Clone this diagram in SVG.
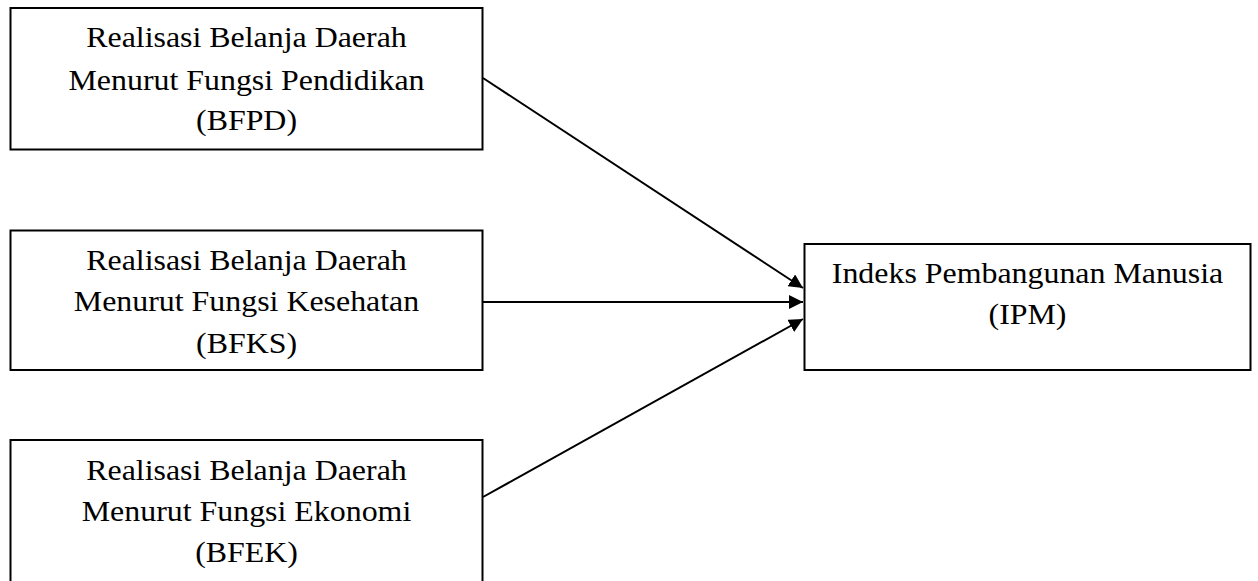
<svg xmlns="http://www.w3.org/2000/svg" width="1258" height="581" viewBox="0 0 1258 581">
<defs>
<style>
rect{fill:#fff;stroke:#000;stroke-width:2}
text{font-family:"Liberation Serif","Times New Roman",serif;font-size:29px;fill:#000;text-anchor:middle}
.c line{stroke:#000;stroke-width:2}
</style>
<marker id="ah" markerWidth="14" markerHeight="14" refX="14" refY="7" orient="auto" markerUnits="userSpaceOnUse" viewBox="0 0 14 14">
<path d="M0,0 L14,7 L0,14 Z" fill="#000"/>
</marker>
</defs>
<g id="bfpd">
<rect x="10.5" y="8" width="472" height="141.5"/>
<text transform="translate(246.5,47) scale(1.1,1)">Realisasi Belanja Daerah</text>
<text transform="translate(246.5,90) scale(1.1,1)">Menurut Fungsi Pendidikan</text>
<text transform="translate(246.5,130) scale(1.1,1)">(BFPD)</text>
</g>
<g id="bfks">
<rect x="10.5" y="230.5" width="472" height="139.5"/>
<text transform="translate(246.5,270) scale(1.1,1)">Realisasi Belanja Daerah</text>
<text transform="translate(246.5,311) scale(1.1,1)">Menurut Fungsi Kesehatan</text>
<text transform="translate(246.5,353) scale(1.1,1)">(BFKS)</text>
</g>
<g id="bfek">
<rect x="10.5" y="440" width="472" height="150"/>
<text transform="translate(246.5,480) scale(1.1,1)">Realisasi Belanja Daerah</text>
<text transform="translate(246.5,521) scale(1.1,1)">Menurut Fungsi Ekonomi</text>
<text transform="translate(246.5,562) scale(1.1,1)">(BFEK)</text>
</g>
<g id="ipm">
<rect x="804.5" y="244" width="446" height="126"/>
<text transform="translate(1027.5,283) scale(1.1,1)">Indeks Pembangunan Manusia</text>
<text transform="translate(1027.5,324) scale(1.1,1)">(IPM)</text>
</g>
<g class="c" id="connectors">
<line x1="483" y1="78" x2="803" y2="288" marker-end="url(#ah)"/>
<line x1="483" y1="302" x2="803" y2="302" marker-end="url(#ah)"/>
<line x1="483" y1="497" x2="803" y2="319" marker-end="url(#ah)"/>
</g>
</svg>
